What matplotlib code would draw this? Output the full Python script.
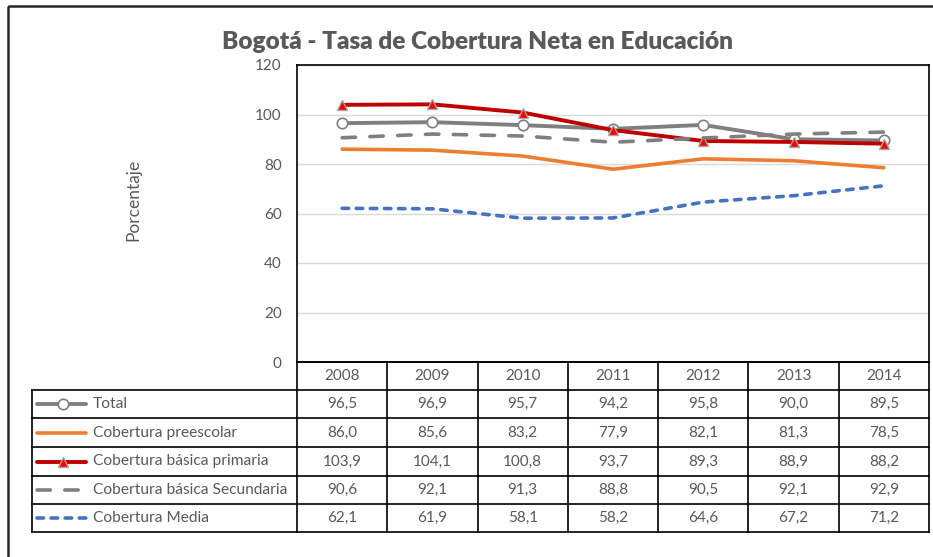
import numpy as np
import matplotlib
matplotlib.use('Agg')
import matplotlib.pyplot as plt
from matplotlib.patches import Rectangle

# datos de la tabla
years = ['2008', '2009', '2010', '2011', '2012', '2013', '2014']
series_names = ['Total', 'Cobertura preescolar', 'Cobertura básica primaria',
                'Cobertura básica Secundaria', 'Cobertura Media']
total = [96.5, 96.9, 95.7, 94.2, 95.8, 90.0, 89.5]
preescolar = [86.0, 85.6, 83.2, 77.9, 82.1, 81.3, 78.5]
primaria = [103.9, 104.1, 100.8, 93.7, 89.3, 88.9, 88.2]
secundaria = [90.6, 92.1, 91.3, 88.8, 90.5, 92.1, 92.9]
media = [62.1, 61.9, 58.1, 58.2, 64.6, 67.2, 71.2]
y_ticks = [0, 20, 40, 60, 80, 100, 120]

plt.rcParams['font.family'] = ['Lato', 'DejaVu Sans']
txt_color = '#595959'

W, H = 933, 557
fig = plt.figure(figsize=(W / 100, H / 100), dpi=100)

# posiciones en pixeles
px_left, px_right, px_top, px_bottom = 297, 929, 65, 362
tab_left = 32
row_lines = [362, 390, 418, 447, 476, 504, 532]

ax = fig.add_axes([px_left / W, 1 - px_bottom / H, (px_right - px_left) / W, (px_bottom - px_top) / H])

styles = [
    dict(color='#7F7F7F', lw=2.8, marker='o', ms=7.5, mfc='white', mec='#7F7F7F', mew=1.2),
    dict(color='#ED7D31', lw=2.6),
    dict(color='#C00000', lw=2.8, marker='^', ms=7, mfc='#FF0000', mec='#A5A5A5', mew=1.0),
    dict(color='#7F7F7F', lw=2.6, dashes=(3.7, 4.0)),
    dict(color='#4472C4', lw=2.6, dashes=(1.8, 2.1)),
]
values = [total, preescolar, primaria, secundaria, media]
order = [1, 4, 3, 0, 2]
x = np.arange(len(years))
for i in order:
    ax.plot(x, values[i], solid_capstyle='round', dash_capstyle='round', zorder=3 + i, **styles[i])

ax.set_xlim(-0.5, len(years) - 0.5)
ax.set_ylim(0, 120)
ax.set_yticks(y_ticks)
ax.set_xticks([])
ax.grid(axis='y', color='#D9D9D9', lw=1)
ax.set_axisbelow(True)
ax.tick_params(axis='y', length=0, labelsize=11, labelcolor=txt_color, pad=11)
for s in ax.spines.values():
    s.set_color('black')
    s.set_linewidth(1.2)

fig.text(478 / W, 1 - 42 / H, 'Bogotá - Tasa de Cobertura Neta en Educación',
         ha='center', va='center', fontsize=17.6, fontweight='heavy', color=txt_color)
fig.text(133 / W, 1 - 200 / H, 'Porcentaje', rotation=90, ha='center', va='center',
         fontsize=12.5, color=txt_color)

# tabla de datos
tab = fig.add_axes([0, 0, 1, 1])
tab.set_xlim(0, W)
tab.set_ylim(H, 0)
tab.axis('off')
tab.patch.set_alpha(0)

# marco exterior
tab.add_patch(Rectangle((8, 6), W + 10, H + 10, fill=False, ec='#262626', lw=1.8))

col_w = (px_right - px_left) / len(years)
col_x = [px_left + i * col_w for i in range(len(years) + 1)]

for j, yy in enumerate(row_lines):
    x0 = px_left if j == 0 else tab_left
    tab.plot([x0, px_right], [yy, yy], color='black', lw=1.2)
for cx in col_x:
    tab.plot([cx, cx], [row_lines[0], row_lines[-1]], color='black', lw=1.2)
tab.plot([tab_left, tab_left], [row_lines[1], row_lines[-1]], color='black', lw=1.2)

for i, yr in enumerate(years):
    tab.text(col_x[i] + col_w / 2, (row_lines[0] + row_lines[1]) / 2, yr,
             ha='center', va='center', fontsize=11, color=txt_color)

for r, name in enumerate(series_names):
    yc = (row_lines[r + 1] + row_lines[r + 2]) / 2
    st = dict(styles[r])
    ms = st.pop('ms', None)
    mk = st.pop('marker', None)
    mfc = st.pop('mfc', None)
    mec = st.pop('mec', None)
    mew = st.pop('mew', None)
    tab.plot([37, 86], [yc, yc], solid_capstyle='round', dash_capstyle='round', **st)
    if mk:
        tab.plot([62.5], [yc], marker=mk, ms=ms, mfc=mfc, mec=mec, mew=mew, ls='none')
    tab.text(93, yc, name, ha='left', va='center', fontsize=11.2, color=txt_color)
    for i, v in enumerate(values[r]):
        tab.text(col_x[i] + col_w / 2, yc, f'{v:.1f}'.replace('.', ','),
                 ha='center', va='center', fontsize=11, color=txt_color)

fig.savefig('out.png', dpi=100)
